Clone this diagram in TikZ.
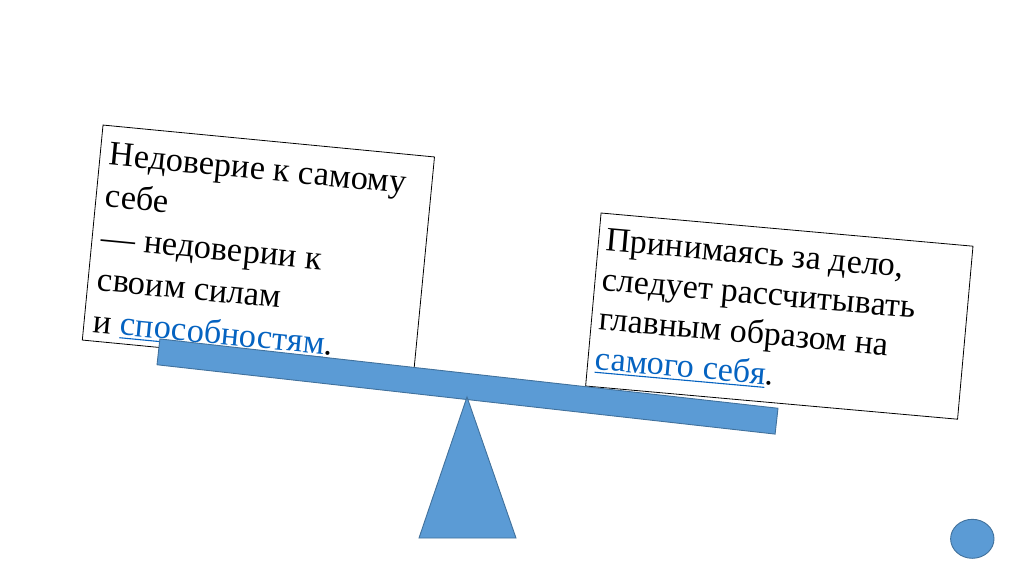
\documentclass[tikz,border=0pt]{standalone}
\usepackage{fontspec}
\setmainfont{Liberation Serif}
\usetikzlibrary{shapes.geometric}
\definecolor{fillblue}{HTML}{5B9BD5}
\definecolor{edgeblue}{HTML}{41719C}
\definecolor{linkblue}{HTML}{0563C1}
\newcommand\hlink[1]{{\color{linkblue}\setbox0\hbox{#1}\rlap{\rule[-3.5pt]{\wd0}{1.1pt}}\box0}}
\begin{document}
\begin{tikzpicture}[x=1pt,y=-1pt,
  card/.style={draw=black, line width=0.8pt, fill=white, inner sep=0pt},
  txt/.style={inner sep=0pt, align=left, anchor=north west},
  blueshape/.style={fill=fillblue, draw=edgeblue, line width=0.9pt}]
\useasboundingbox (0,0) rectangle (1024,574);
\begin{scope}[shift={(258.4,248.5)}, rotate=-5.5, transform shape]
  \node[card, minimum width=333pt, minimum height=216pt] (lbox) at (0,0) {};
  \node[txt, font=\fontsize{34.3}{42}\selectfont] (ltext) at (-157,-91.5) {Недоверие к самому\\себе\\— недоверии к\\своим силам\\и \hlink{способностям}.};
\end{scope}
\begin{scope}[shift={(779.3,316.1)}, rotate=-5.1, transform shape]
  \node[card, minimum width=373.4pt, minimum height=173.7pt] (rbox) at (0,0) {};
  \node[txt, font=\fontsize{34}{39.7}\selectfont] (rtext) at (-179.2,-72.2) {Принимаясь за дело,\\следует рассчитывать\\главным образом на\\\hlink{самого себя}.};
\end{scope}
\node[blueshape, rotate=-6.4, minimum width=622pt, minimum height=26pt, inner sep=0pt] (beam) at (467.5,386.5) {};
\coordinate (apex) at (467,397);
\coordinate (baseleft) at (419,538);
\coordinate (baseright) at (516,538);
\draw[blueshape] (apex) -- (baseright) -- (baseleft) -- cycle;
\node[blueshape, ellipse, minimum width=43.4pt, minimum height=39pt, inner sep=0pt] (dot) at (972.3,538.8) {};
\end{tikzpicture}
\end{document}
